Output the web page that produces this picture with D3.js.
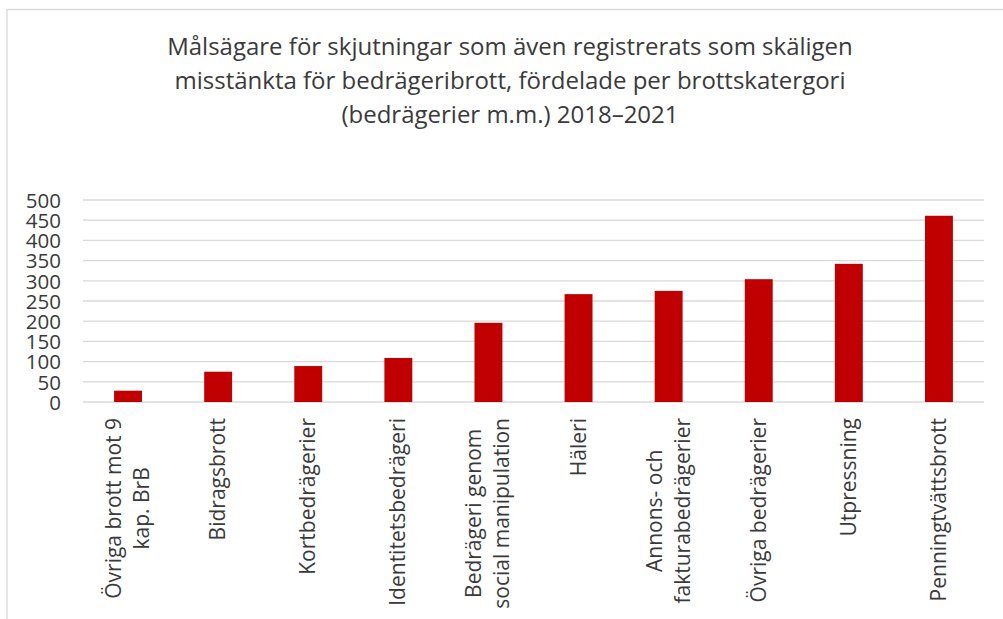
<!DOCTYPE html>
<html>
<head>
<meta charset="utf-8">
<script src="https://cdn.jsdelivr.net/npm/d3@7"></script>
<style>
  body { margin: 0; background: #fff; }
  text { font-family: "Open Sans", "Noto Sans", sans-serif; fill: #3a3a3a; }
</style>
</head>
<body>
<svg id="chart"></svg>
<script>
const width = 1003;
const height = 619;

// data
const categories = [
    ['Övriga brott mot 9', 'kap. BrB'],
    ['Bidragsbrott'],
    ['Kortbedrägerier'],
    ['Identitetsbedrägeri'],
    ['Bedrägeri genom', 'social manipulation'],
    ['Häleri'],
    ['Annons- och', 'fakturabedrägerier'],
    ['Övriga bedrägerier'],
    ['Utpressning'],
    ['Penningtvättsbrott']
];
const values = [28, 75, 89, 109, 196, 267, 275, 304, 342, 461];
const yTicks = [0, 50, 100, 150, 200, 250, 300, 350, 400, 450, 500];
const titleLines = [
    'Målsägare för skjutningar som även registrerats som skäligen',
    'misstänkta för bedrägeribrott, fördelade per brottskatergori',
    '(bedrägerier m.m.) 2018–2021'
];

const plot = {left: 83, right: 984, top: 200, bottom: 402};

const svg = d3.select('#chart')
            .attr('width', width)
            .attr('height', height);

// outer frame of the chart area
svg.append('path')
    .attr('d', `M7,${height} L7,9.5 L${width},9.5`)
    .attr('fill', 'none')
    .attr('stroke', '#d9d9d9')
    .attr('stroke-width', 1.3);

const x = d3.scaleBand()
    .domain(d3.range(categories.length))
    .range([plot.left, plot.right])
    .paddingInner(0.69)
    .paddingOuter(0.345);

const y = d3.scaleLinear()
    .domain([0, 500])
    .range([plot.bottom, plot.top]);

// gridlines
svg.append('g').selectAll('line').data(yTicks)
    .enter().append('line')
    .attr('x1', plot.left)
    .attr('x2', plot.right)
    .attr('y1', d => y(d))
    .attr('y2', d => y(d))
    .attr('stroke', '#d9d9d9')
    .attr('stroke-width', 1.3);

// y axis
const yAxis = svg.append('g')
    .attr('transform', 'translate(61, 0)')
    .call(d3.axisLeft(y).tickValues(yTicks).tickSize(0).tickPadding(0));
yAxis.select('.domain').remove();
yAxis.selectAll('text')
    .style('font-size', '20.5px')
    .attr('fill', '#3a3a3a')
    .attr('dy', '0.36em');

// bars
svg.append('g').selectAll('rect').data(values)
    .enter().append('rect')
    .attr('x', (d, i) => x(i))
    .attr('y', d => y(d))
    .attr('width', x.bandwidth())
    .attr('height', d => y(0) - y(d))
    .attr('fill', '#c00000');

// category labels, rotated, lines centered inside the block
const labelTop = 418;
const lineGap = 28;
const labels = svg.append('g').selectAll('g').data(categories)
    .enter().append('g');

labels.each(function(lines, i) {
    const g = d3.select(this);
    const cx = x(i) + x.bandwidth() / 2;
    const texts = lines.map(l => g.append('text')
        .text(l)
        .style('font-size', '21px')
        .attr('text-anchor', 'middle'));
    const maxW = d3.max(texts, t => t.node().getComputedTextLength());
    const cy = labelTop + maxW / 2;
    texts.forEach((t, j) => {
        const off = (j - (lines.length - 1) / 2) * lineGap;
        t.attr('transform', `translate(${cx + off + 7}, ${cy}) rotate(-90)`);
    });
});

// title
svg.append('g').selectAll('text').data(titleLines)
    .enter().append('text')
    .attr('x', 510)
    .attr('y', (d, i) => 55 + i * 34)
    .attr('text-anchor', 'middle')
    .style('font-size', '24px')
    .text(d => d);
</script>
</body>
</html>
